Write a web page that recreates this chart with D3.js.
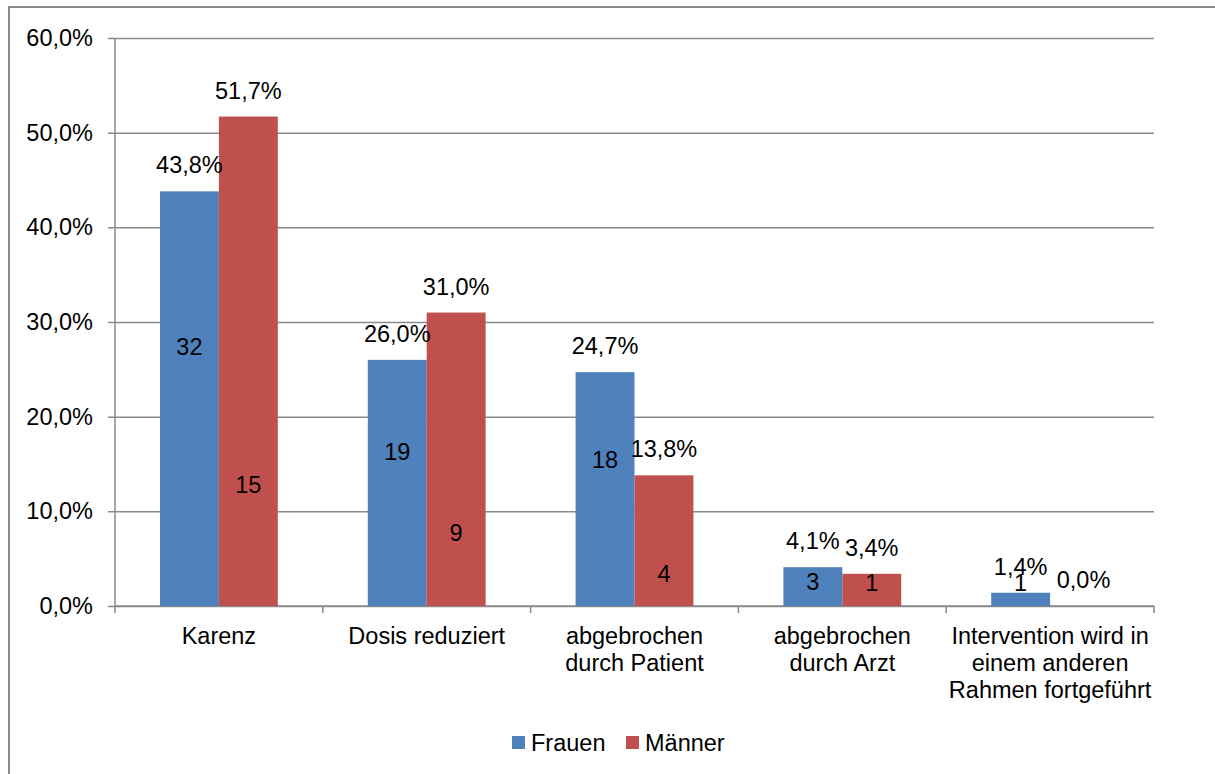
<!DOCTYPE html>
<html>
<head>
<meta charset="utf-8">
<script src="https://cdn.jsdelivr.net/npm/d3@7"></script>
<style>
  body { margin: 0; background: #fff; }
  text { font-family: "Liberation Sans", Arial, sans-serif; fill: #000; }
</style>
</head>
<body>
<div id="chart"></div>
<script>
// Data
var categories = [
  ["Karenz"],
  ["Dosis reduziert"],
  ["abgebrochen", "durch Patient"],
  ["abgebrochen", "durch Arzt"],
  ["Intervention wird in", "einem anderen", "Rahmen fortgeführt"]
];
var seriesNames = ["Frauen", "Männer"];
var frauenPct = [43.8, 26.0, 24.7, 4.1, 1.4];
var maennerPct = [51.7, 31.0, 13.8, 3.4, 0.0];
var frauenCount = [32, 19, 18, 3, 1];
var maennerCount = [15, 9, 4, 1, 0];
var yTicks = [0, 10, 20, 30, 40, 50, 60];
var colors = ["#4F81BD", "#C0504D"];

var fontSize = 23.5;
var svgWidth = 1215;
var svgHeight = 774;
var margin = { top: 38, left: 115, right: 61, bottom: 168 };
var chartWidth = svgWidth - margin.left - margin.right;
var chartHeight = svgHeight - margin.top - margin.bottom;

var svg = d3.select("#chart")
  .append("svg")
  .attr("width", svgWidth)
  .attr("height", svgHeight);

// outer frame
svg.append("rect")
  .attr("x", 9)
  .attr("y", 7)
  .attr("width", svgWidth + 10)
  .attr("height", svgHeight + 10)
  .attr("fill", "none")
  .attr("stroke", "#8a8a8a")
  .attr("stroke-width", 2);

var chartGroup = svg.append("g")
  .attr("transform", `translate(${margin.left}, ${margin.top})`);

var idx = d3.range(categories.length);

var xScale = d3.scaleBand()
  .domain(idx)
  .range([0, chartWidth]);

var xInner = d3.scaleBand()
  .domain([0, 1])
  .range([0, xScale.bandwidth() * 0.567]);

var yScale = d3.scaleLinear()
  .domain([0, 60])
  .range([chartHeight, 0]);

// hidden secondary scale for the counts
var yCount = d3.scaleLinear()
  .domain([0, 35])
  .range([chartHeight, 0]);

// gridlines + y labels
var leftAxis = d3.axisLeft(yScale)
  .tickValues(yTicks)
  .tickSize(-chartWidth)
  .tickPadding(22)
  .tickFormat(d => d.toFixed(1).replace(".", ",") + "%");

var yAxis = chartGroup.append("g").call(leftAxis);
yAxis.select(".domain").remove();
yAxis.selectAll(".tick line")
  .attr("x1", -7)
  .attr("stroke", "#8a8a8a")
  .attr("stroke-width", 1.5);
yAxis.selectAll(".tick text")
  .attr("font-size", fontSize)
  .attr("font-family", "Liberation Sans, Arial, sans-serif")
  .attr("fill", "#000");

// y axis line
chartGroup.append("line")
  .attr("x1", 0).attr("x2", 0)
  .attr("y1", 0).attr("y2", chartHeight)
  .attr("stroke", "#8a8a8a")
  .attr("stroke-width", 1.5);

// x axis line and ticks
chartGroup.append("line")
  .attr("x1", 0).attr("x2", chartWidth)
  .attr("y1", chartHeight).attr("y2", chartHeight)
  .attr("stroke", "#8a8a8a")
  .attr("stroke-width", 1.5);

chartGroup.selectAll(".xtick")
  .data(d3.range(categories.length + 1))
  .enter()
  .append("line")
  .attr("x1", d => d * xScale.step())
  .attr("x2", d => d * xScale.step())
  .attr("y1", chartHeight)
  .attr("y2", chartHeight + 7)
  .attr("stroke", "#8a8a8a")
  .attr("stroke-width", 1.5);

// bars
var series = [
  { name: seriesNames[0], pct: frauenPct, count: frauenCount, color: colors[0] },
  { name: seriesNames[1], pct: maennerPct, count: maennerCount, color: colors[1] }
];

var groupOffset = (xScale.bandwidth() - xInner.range()[1]) / 2;

series.forEach(function(s, si) {
  var barX = i => xScale(i) + groupOffset + xInner(si);

  chartGroup.selectAll(".bar" + si)
    .data(idx)
    .enter()
    .append("rect")
    .attr("x", barX)
    .attr("y", i => yScale(s.pct[i]))
    .attr("width", xInner.bandwidth())
    .attr("height", i => chartHeight - yScale(s.pct[i]))
    .attr("fill", s.color);
});

series.forEach(function(s, si) {
  var barX = i => xScale(i) + groupOffset + xInner(si);

  // percentage labels
  chartGroup.selectAll(".pct" + si)
    .data(idx)
    .enter()
    .append("text")
    .attr("x", i => barX(i) + xInner.bandwidth() / 2 + (s.pct[i] === 0 ? 4 : 0))
    .attr("y", i => yScale(s.pct[i]) - 18)
    .attr("text-anchor", "middle")
    .attr("font-size", fontSize)
    .text(i => s.pct[i].toFixed(1).replace(".", ",") + "%");

  // count labels (centre of hidden count bar, kept inside the plot)
  chartGroup.selectAll(".cnt" + si)
    .data(idx.filter(i => s.count[i] > 0))
    .enter()
    .append("text")
    .attr("x", i => barX(i) + xInner.bandwidth() / 2)
    .attr("y", i => Math.min(yCount(s.count[i] / 2), chartHeight - 23))
    .attr("dy", "0.36em")
    .attr("text-anchor", "middle")
    .attr("font-size", fontSize)
    .text(i => s.count[i]);
});

// category labels
var catText = chartGroup.selectAll(".cat")
  .data(idx)
  .enter()
  .append("text")
  .attr("text-anchor", "middle")
  .attr("font-size", fontSize)
  .attr("transform", i => `translate(${xScale(i) + xScale.bandwidth() / 2}, ${chartHeight + 38})`);

catText.selectAll("tspan")
  .data(i => categories[i])
  .enter()
  .append("tspan")
  .attr("x", 0)
  .attr("y", (d, j) => j * 27)
  .text(d => d);

// legend
var legend = svg.append("g").attr("transform", "translate(512, 736)");
var legendX = [0, 114];
seriesNames.forEach(function(name, i) {
  legend.append("rect")
    .attr("x", legendX[i])
    .attr("y", 0)
    .attr("width", 13)
    .attr("height", 13)
    .attr("fill", colors[i]);
  legend.append("text")
    .attr("x", legendX[i] + 19)
    .attr("y", 15)
    .attr("font-size", fontSize)
    .text(name);
});
</script>
</body>
</html>
